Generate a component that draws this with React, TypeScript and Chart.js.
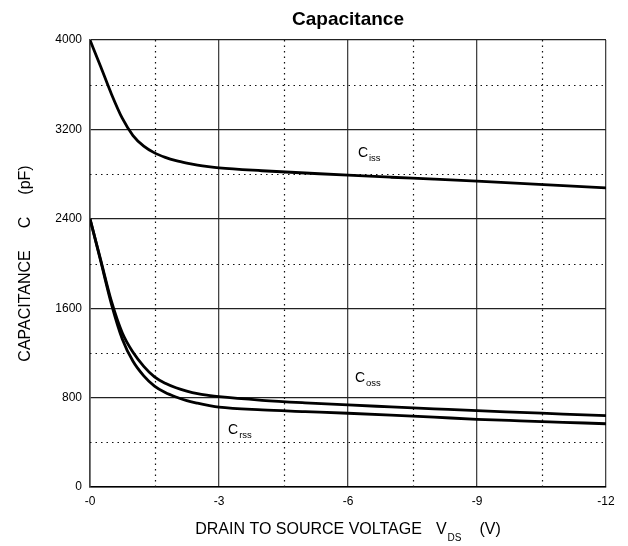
import { useEffect, useRef } from 'react';
import { Chart, registerables } from 'chart.js';

Chart.register(...registerables);

// V_DS (V)
const voltage = [0, -0.25, -0.5, -0.75, -1, -1.25, -1.5, -1.75, -2, -2.25, -2.5, -2.75, -3, -4, -5, -6, -7, -8, -9, -10, -11, -12];
// capacitances (pF)
const ciss = [4000, 3760, 3515, 3300, 3145, 3050, 2990, 2950, 2920, 2898, 2880, 2866, 2855, 2830, 2810, 2790, 2772, 2755, 2737, 2717, 2697, 2676];
const coss = [2400, 2030, 1660, 1380, 1205, 1080, 985, 928, 888, 858, 835, 820, 808, 776, 753, 734, 717, 700, 683, 668, 653, 638];
const crss = [2400, 2020, 1635, 1325, 1125, 995, 903, 845, 805, 773, 750, 730, 714, 690, 675, 660, 643, 625, 606, 592, 579, 566];

const xMinorTicks = [-1.5, -4.5, -7.5, -10.5];
const yMinorTicks = [400, 1200, 2000, 2800, 3600];

const curveLabelSubs = ['iss', 'oss', 'rss'];
const curveLabelV = [-6.23, -6.16, -3.21];
const curveLabelC = [2953, 940, 474];

const chartTitle = 'Capacitance';
const xTitleParts = ['DRAIN TO SOURCE VOLTAGE', 'V', 'DS', '(V)'];
const yTitleParts = ['CAPACITANCE', 'C', '(pF)'];

const FONT = '"Liberation Sans", Arial, Helvetica, sans-serif';

const decor = {
  id: 'decor',
  beforeDatasetsDraw(chart: any) {
    const { ctx, chartArea: a, scales } = chart;
    const x = scales.x;
    const y = scales.y;
    ctx.save();
    ctx.strokeStyle = '#111';
    ctx.lineWidth = 1.2;
    ctx.setLineDash([1.5, 4]);
    for (const v of xMinorTicks) {
      const px = Math.round(x.getPixelForValue(v)) + 0.5;
      ctx.beginPath();
      ctx.moveTo(px, a.top);
      ctx.lineTo(px, a.bottom);
      ctx.stroke();
    }
    for (const v of yMinorTicks) {
      const py = Math.round(y.getPixelForValue(v)) + 0.5;
      ctx.beginPath();
      ctx.moveTo(a.left, py);
      ctx.lineTo(a.right, py);
      ctx.stroke();
    }
    ctx.restore();
  },
  afterDraw(chart: any) {
    const { ctx, chartArea: a, scales } = chart;
    const x = scales.x;
    const y = scales.y;
    ctx.save();
    ctx.fillStyle = '#000';
    // title
    ctx.font = `bold 19px ${FONT}`;
    ctx.textAlign = 'center';
    ctx.textBaseline = 'middle';
    ctx.fillText(chartTitle, (a.left + a.right) / 2, 20);

    // curve labels
    ctx.textAlign = 'left';
    ctx.textBaseline = 'alphabetic';
    for (let i = 0; i < curveLabelSubs.length; i++) {
      const px = x.getPixelForValue(curveLabelV[i]);
      const py = y.getPixelForValue(curveLabelC[i]);
      ctx.font = `14px ${FONT}`;
      ctx.fillText('C', px, py);
      const w = ctx.measureText('C').width;
      ctx.font = `9.5px ${FONT}`;
      ctx.fillText(curveLabelSubs[i], px + w + 1, py + 4);
    }

    // x title
    const big = `16px ${FONT}`;
    const small = `10px ${FONT}`;
    const gap1 = 14;
    const gap2 = 18;
    ctx.font = big;
    const w0 = ctx.measureText(xTitleParts[0]).width;
    const w1 = ctx.measureText(xTitleParts[1]).width;
    const w3 = ctx.measureText(xTitleParts[3]).width;
    ctx.font = small;
    const w2 = ctx.measureText(xTitleParts[2]).width;
    const total = w0 + gap1 + w1 + 1 + w2 + gap2 + w3;
    let cx = (a.left + a.right) / 2 - total / 2;
    const by = 534;
    ctx.font = big;
    ctx.fillText(xTitleParts[0], cx, by);
    cx += w0 + gap1;
    ctx.fillText(xTitleParts[1], cx, by);
    cx += w1 + 1;
    ctx.font = small;
    ctx.fillText(xTitleParts[2], cx, by + 7);
    cx += w2 + gap2;
    ctx.font = big;
    ctx.fillText(xTitleParts[3], cx, by);

    // y title (rotated)
    ctx.font = big;
    const g = 22;
    const yw = yTitleParts.map((s) => ctx.measureText(s).width);
    const ytotal = yw[0] + g + yw[1] + g + yw[2];
    ctx.translate(30, (a.top + a.bottom) / 2);
    ctx.rotate(-Math.PI / 2);
    let t = -ytotal / 2;
    for (let i = 0; i < yTitleParts.length; i++) {
      ctx.fillText(yTitleParts[i], t, 0);
      t += yw[i] + g;
    }
    ctx.restore();
  },
};

export default function App() {
  const ref = useRef<HTMLCanvasElement | null>(null);
  useEffect(() => {
    document.body.style.margin = '0';
    const canvas = ref.current!;
    const mk = (data: number[]) => ({
      data: voltage.map((v, i) => ({ x: v, y: data[i] })),
      borderColor: '#000',
      borderWidth: 2.8,
      pointRadius: 0,
      fill: false,
      cubicInterpolationMode: 'monotone' as const,
    });
    const chart = new Chart(canvas, {
      type: 'line',
      data: {
        datasets: [
          { label: 'Ciss', ...mk(ciss) },
          { label: 'Coss', ...mk(coss) },
          { label: 'Crss', ...mk(crss) },
        ],
      },
      options: {
        animation: false,
        responsive: false,
        devicePixelRatio: 1,
        layout: { padding: { left: 0, right: 22, top: 40, bottom: 0 } },
        plugins: { legend: { display: false }, tooltip: { enabled: false }, title: { display: false } },
        scales: {
          x: {
            type: 'linear',
            min: -12,
            max: 0,
            reverse: true,
            afterFit: (s: any) => { s.height = 59; },
            ticks: {
              stepSize: 3,
              color: '#000',
              font: { family: FONT, size: 12 },
              padding: 7,
              maxRotation: 0,
              callback: (v: any) => (Number(v) === 0 ? '-0' : String(v)),
            },
            grid: { color: '#444', lineWidth: 1.3, drawTicks: false },
            border: { color: '#000', width: 1.6 },
          },
          y: {
            type: 'linear',
            min: 0,
            max: 4000,
            afterFit: (s: any) => { s.width = 90; },
            ticks: {
              stepSize: 800,
              color: '#000',
              font: { family: FONT, size: 12 },
              padding: 8,
              callback: (v: any) => String(v),
            },
            grid: { color: '#222', lineWidth: 1.3, drawTicks: false },
            border: { color: '#444', width: 1.6 },
          },
        },
      },
      plugins: [decor],
    });
    return () => chart.destroy();
  }, []);
  return (
    <div style={{ width: 628, height: 546, background: '#fff' }}>
      <canvas ref={ref} width={628} height={546} style={{ display: 'block' }} />
    </div>
  );
}
